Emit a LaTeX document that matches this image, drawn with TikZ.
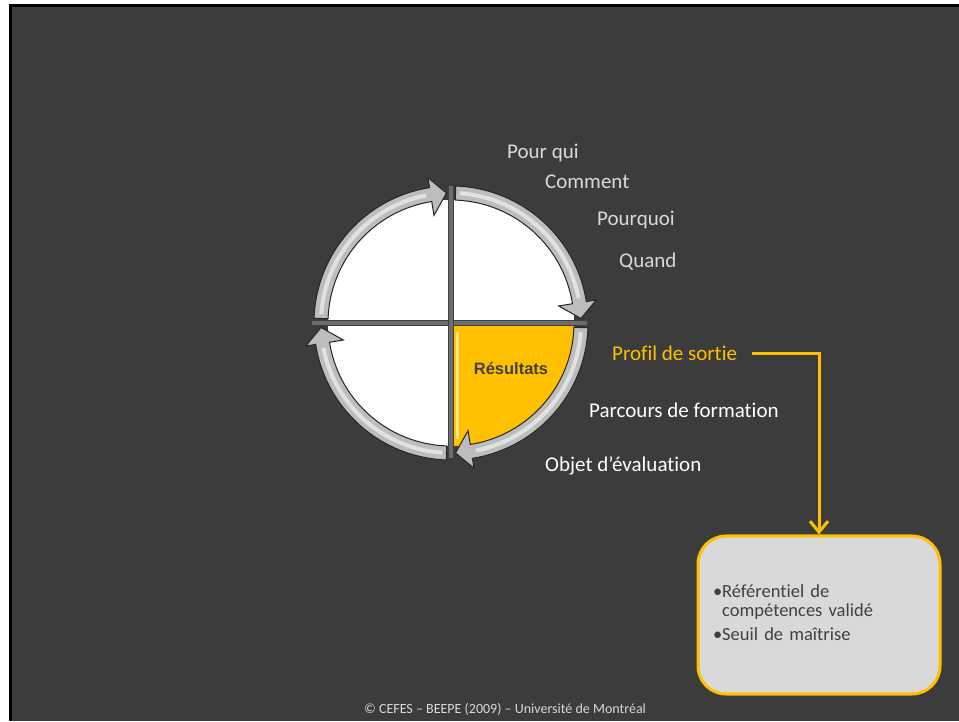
\documentclass[tikz,border=0pt]{standalone}
\usepackage{fontspec}
\setmainfont[Ligatures={NoCommon}]{Carlito}
\newfontfamily\resfont{Liberation Sans}
\usetikzlibrary{arrows.meta,positioning}
\definecolor{slidebg}{HTML}{3C3C3C}
\definecolor{gold}{HTML}{FFC000}
\definecolor{paleyellow}{HTML}{FFE680}
\definecolor{labelgray}{HTML}{D9D9D9}
\definecolor{boxgray}{HTML}{D9D9D9}
\definecolor{inkgray}{HTML}{404040}
\definecolor{ringgray}{HTML}{BDBDBD}
\tikzset{
  label/.style={anchor=base west, inner sep=0pt, font=\fontsize{21}{25}\selectfont},
  ringarrow/.style={fill=ringgray, draw=black!85, line width=1pt},
  ringshine/.style={draw=white!55!ringgray, line width=4pt},
  crossline/.style={draw=black!75, double=gray!85!black, double distance=4pt, line width=1pt},
  conn/.style={draw=gold, line width=3pt, -{Straight Barb[length=11pt,width=18pt]}},
  infobox/.style={draw=gold, line width=3pt, fill=boxgray, rounded corners=28pt,
    minimum width=242pt, minimum height=158pt, text width=212pt, inner xsep=15pt,
    align=left, text=inkgray, font=\fontsize{18.5}{19}\selectfont}
}
\newcommand{\ringarrow}[2]{%
  \filldraw[ringarrow] (#1:137) arc[start angle=#1, end angle=#2+7, radius=137]
    -- (#2+7:147) -- (#2:130) -- (#2+7:109) -- (#2+7:123)
    arc[start angle=#2+7, end angle=#1, radius=123] -- cycle;
  \draw[ringshine] (#1-2:130) arc[start angle=#1-2, end angle=#2+9, radius=130];}
\begin{document}
\begin{tikzpicture}[x=1pt, y=1pt]
  \useasboundingbox (0,0) rectangle (959,721);
  \fill[white] (0,0) rectangle (959,721);
  \fill[black] (9,0) rectangle (959,717);
  \fill[slidebg] (12,0) rectangle (959,714);

  \begin{scope}[shift={(451,398)}]
    \fill[white] (0,0) circle[radius=123];
    \fill[gold] (0,0) -- (0:123) arc[start angle=0, end angle=-90, radius=123] -- cycle;
    \draw[paleyellow, line width=3pt] (6,-9) -- (6,-116);
    \draw[crossline] (-139,0) -- (136,0);
    \draw[crossline] (0,137) -- (0,-135);
    \ringarrow{178}{92}
    \ringarrow{88}{2}
    \ringarrow{-2}{-88}
    \ringarrow{-92}{-178}
  \end{scope}
  \node[anchor=base, inner sep=0pt, text=inkgray, font=\resfont\bfseries\fontsize{16.5}{19}\selectfont] (res) at (511,346) {Résultats};

  \node[label, text=labelgray] (pourqui) at (507,562) {Pour qui};
  \node[label, text=labelgray] (comment) at (545,532) {Comment};
  \node[label, text=labelgray] (pourquoi) at (597,495) {Pourquoi};
  \node[label, text=labelgray] (quand) at (619,453) {Quand};
  \node[label, text=gold] (profil) at (612,360) {Profil de sortie};
  \node[label, text=white] (parcours) at (589,303) {Parcours de formation};
  \node[label, text=white] (objet) at (545,249) {Objet d’évaluation};

  \node[infobox] (box) at (819,106) {\begin{tabular}{@{}l@{}l@{}}
    •&Référentiel de\\
    &compétences validé\\[5pt]
    •&Seuil de maîtrise
  \end{tabular}};
  \draw[conn] ([xshift=15pt]profil.east) -| (box.north);

  \node[anchor=base west, inner sep=0pt, text=labelgray, font=\fontsize{14}{17}\selectfont] (footer) at (364,8) {© CEFES – BEEPE (2009) – Université de Montréal};
\end{tikzpicture}
\end{document}
